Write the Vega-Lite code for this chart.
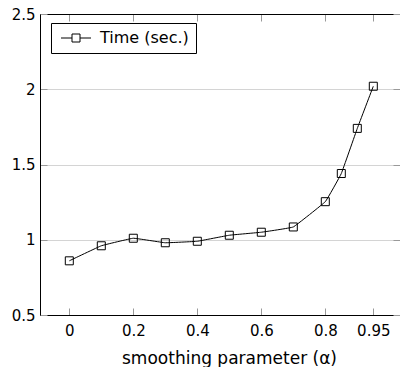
{
  "$schema": "https://vega.github.io/schema/vega-lite/v6.json",
  "width": 360,
  "height": 301,
  "autosize": {"type": "none"},
  "padding": {"left": 40, "top": 14, "right": 0, "bottom": 52},
  "config": {"view": {"stroke": null}, "font": "DejaVu Sans"},
  "data": {
    "values": [
      {"alpha": 0, "time": 0.86, "series": "Time (sec.)"},
      {"alpha": 0.1, "time": 0.96, "series": "Time (sec.)"},
      {"alpha": 0.2, "time": 1.01, "series": "Time (sec.)"},
      {"alpha": 0.3, "time": 0.98, "series": "Time (sec.)"},
      {"alpha": 0.4, "time": 0.99, "series": "Time (sec.)"},
      {"alpha": 0.5, "time": 1.03, "series": "Time (sec.)"},
      {"alpha": 0.6, "time": 1.05, "series": "Time (sec.)"},
      {"alpha": 0.7, "time": 1.085, "series": "Time (sec.)"},
      {"alpha": 0.8, "time": 1.253, "series": "Time (sec.)"},
      {"alpha": 0.85, "time": 1.44, "series": "Time (sec.)"},
      {"alpha": 0.9, "time": 1.74, "series": "Time (sec.)"},
      {"alpha": 0.95, "time": 2.02, "series": "Time (sec.)"}
    ]
  },
  "layer": [
    {
      "mark": {"type": "line", "interpolate": "cardinal", "tension": 0.8, "strokeWidth": 1},
      "encoding": {
        "x": {
          "field": "alpha", "type": "quantitative",
          "scale": {"domain": [-0.0916, 1.0334], "nice": false, "zero": false},
          "axis": {
            "orient": "bottom", "values": [0, 0.2, 0.4, 0.6, 0.8, 0.95], "grid": false,
            "domainColor": "#000", "tickColor": "#999", "tickSize": -7, "labelPadding": 15,
            "labelFontSize": 15, "labelColor": "#000", "labelFlush": false,
            "labelExpr": "'' + datum.value",
            "title": "smoothing parameter (α)", "titleFontSize": 17, "titleFontWeight": "normal",
            "titleColor": "#000", "titleX": 189, "titleY": 48, "titleBaseline": "alphabetic"
          }
        },
        "y": {
          "field": "time", "type": "quantitative",
          "scale": {"domain": [0.5, 2.5], "nice": false, "zero": false},
          "axis": {
            "orient": "left", "values": [0.5, 1, 1.5, 2, 2.5], "grid": true, "gridColor": "#d4d4d4",
            "domainColor": "#000", "tickColor": "#999", "tickSize": -7, "labelPadding": 12,
            "labelFontSize": 15, "labelColor": "#000", "labelExpr": "'' + datum.value", "title": null
          }
        },
        "color": {
          "field": "series", "type": "nominal",
          "scale": {"range": ["black"]},
          "legend": {
            "title": null, "orient": "none", "legendX": 11, "legendY": 9,
            "symbolType": "M-1,0H1.2M2.8,0H5M1.2,-0.8H2.8V0.8H1.2Z",
            "symbolSize": 100, "symbolStrokeWidth": 1, "symbolStrokeColor": "black",
            "symbolFillColor": "white", "labelFontSize": 16, "labelColor": "#000",
            "labelOffset": 26, "padding": 7, "strokeColor": "#000", "fillColor": "white",
            "cornerRadius": 0
          }
        }
      }
    },
    {
      "mark": {"type": "point", "shape": "square", "size": 64, "filled": false, "color": "black", "strokeWidth": 1, "opacity": 1},
      "encoding": {
        "x": {
          "field": "alpha", "type": "quantitative",
          "scale": {"domain": [-0.0916, 1.0334], "nice": false, "zero": false},
          "axis": {
            "orient": "top", "values": [0, 0.2, 0.4, 0.6, 0.8, 0.95], "grid": false, "labels": false,
            "domainColor": "#000", "tickColor": "#999", "tickSize": -7, "title": null
          }
        },
        "y": {
          "field": "time", "type": "quantitative",
          "scale": {"domain": [0.5, 2.5], "nice": false, "zero": false},
          "axis": {
            "orient": "right", "values": [0.5, 1, 1.5, 2, 2.5], "grid": false, "labels": false,
            "domain": false, "tickColor": "#999", "tickSize": -7, "title": null
          }
        }
      }
    }
  ],
  "resolve": {"axis": {"x": "independent", "y": "independent"}}
}
